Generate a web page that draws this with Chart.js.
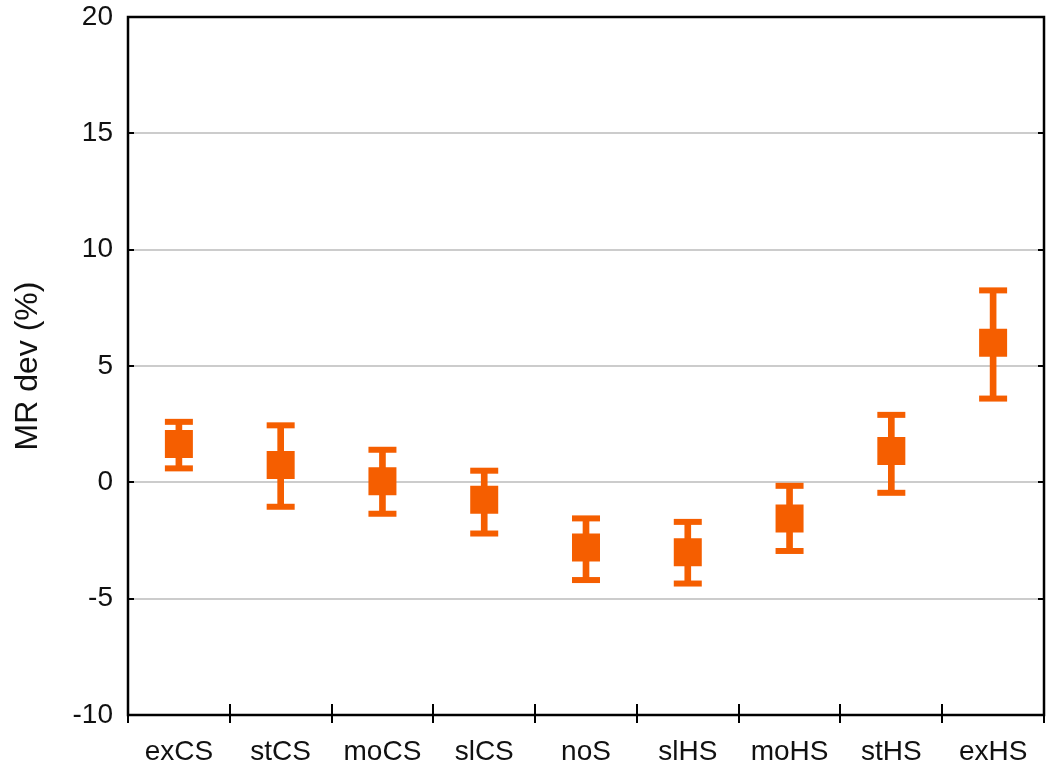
<!DOCTYPE html>
<html>
<head>
<meta charset="utf-8">
<script src="https://cdn.jsdelivr.net/npm/chart.js@4/dist/chart.umd.min.js"></script>
<style>
  html, body { margin: 0; padding: 0; background: #fff; }
  #wrap { width: 1058px; height: 764px; position: relative; }
</style>
</head>
<body>
<div id="wrap"><canvas id="c"></canvas></div>
<script>
// Categories along the x axis
const categories = ['exCS', 'stCS', 'moCS', 'slCS', 'noS', 'slHS', 'moHS', 'stHS', 'exHS'];
// Mean deviation per category (%)
const means = [1.65, 0.75, 0.05, -0.75, -2.8, -3.0, -1.55, 1.35, 6.0];
// Upper and lower ends of the error bars (%)
const upper = [2.6, 2.45, 1.4, 0.5, -1.55, -1.7, -0.15, 2.9, 8.25];
const lower = [0.6, -1.05, -1.35, -2.2, -4.2, -4.35, -2.95, -0.45, 3.6];
// Y axis range and step
const yMin = -10, yMax = 20, yStep = 5;
const yTitle = 'MR dev (%)';

const ORANGE = '#f55e00';
const FONT = '"Liberation Sans", Arial, Helvetica, sans-serif';

// Box frame plus inward tick marks on the y axes and crossing ticks on the x axis
const framePlugin = {
  id: 'frame',
  afterDraw(chart) {
    const { ctx, chartArea: a } = chart;
    const xs = chart.scales.x, ys = chart.scales.y;
    ctx.save();
    ctx.strokeStyle = '#000';
    ctx.lineWidth = 2;
    ctx.beginPath();
    ys.ticks.forEach(t => {
      const y = Math.round(ys.getPixelForValue(t.value));
      ctx.moveTo(a.left, y); ctx.lineTo(a.left + 6, y);
      ctx.moveTo(a.right, y); ctx.lineTo(a.right - 6, y);
    });
    for (let i = 0; i <= categories.length; i++) {
      const x = Math.round(xs.getPixelForValue(i - 0.5));
      ctx.moveTo(x, a.bottom - 11); ctx.lineTo(x, a.bottom + 8);
    }
    ctx.stroke();
    ctx.lineWidth = 2.5;
    ctx.strokeRect(a.left, a.top, a.right - a.left, a.bottom - a.top);
    ctx.restore();
  }
};

new Chart(document.getElementById('c'), {
  data: {
    labels: categories,
    datasets: [
      {
        type: 'bar',
        label: 'range',
        data: lower.map((l, i) => [l, upper[i]]),
        backgroundColor: ORANGE,
        borderWidth: 0,
        barThickness: 6,
        order: 4
      },
      {
        type: 'line',
        label: 'upper',
        data: upper,
        showLine: false,
        pointStyle: 'line',
        pointRadius: 14,
        pointHoverRadius: 14,
        pointBorderWidth: 6,
        pointHoverBorderWidth: 6,
        pointBorderColor: ORANGE,
        pointBackgroundColor: ORANGE,
        order: 3
      },
      {
        type: 'line',
        label: 'lower',
        data: lower,
        showLine: false,
        pointStyle: 'line',
        pointRadius: 14,
        pointHoverRadius: 14,
        pointBorderWidth: 6,
        pointHoverBorderWidth: 6,
        pointBorderColor: ORANGE,
        pointBackgroundColor: ORANGE,
        order: 2
      },
      {
        type: 'line',
        label: 'mean',
        data: means,
        showLine: false,
        pointStyle: 'rect',
        pointRadius: 19.8,
        pointHoverRadius: 19.8,
        pointBorderWidth: 0,
        pointBackgroundColor: ORANGE,
        pointBorderColor: ORANGE,
        order: 1
      }
    ]
  },
  options: {
    responsive: true,
    maintainAspectRatio: false,
    animation: false,
    events: [],
    layout: { autoPadding: false, padding: { top: 17, right: 14, left: 0, bottom: 0 } },
    plugins: {
      legend: { display: false },
      tooltip: { enabled: false }
    },
    scales: {
      x: {
        type: 'category',
        offset: true,
        grid: { display: false, offset: true },
        border: { display: false },
        ticks: {
          padding: 12,
          color: '#111',
          font: { family: FONT, size: 28 },
          maxRotation: 0,
          autoSkip: false
        },
        afterFit(scale) {
          scale.height = 49;
          scale.paddingLeft = 0; scale.paddingRight = 0;
        }
      },
      y: {
        min: yMin,
        max: yMax,
        grid: { color: '#cccccc', lineWidth: 2, drawTicks: false },
        border: { display: false },
        ticks: {
          stepSize: yStep,
          padding: 15,
          color: '#111',
          font: { family: FONT, size: 28 }
        },
        title: {
          display: true,
          text: yTitle,
          color: '#111',
          font: { family: FONT, size: 32 },
          padding: { top: 9, bottom: 0 }
        },
        afterFit(scale) {
          scale.width = 128;
          scale.paddingTop = 0; scale.paddingBottom = 0;
        }
      }
    }
  },
  plugins: [framePlugin]
});
</script>
</body>
</html>
